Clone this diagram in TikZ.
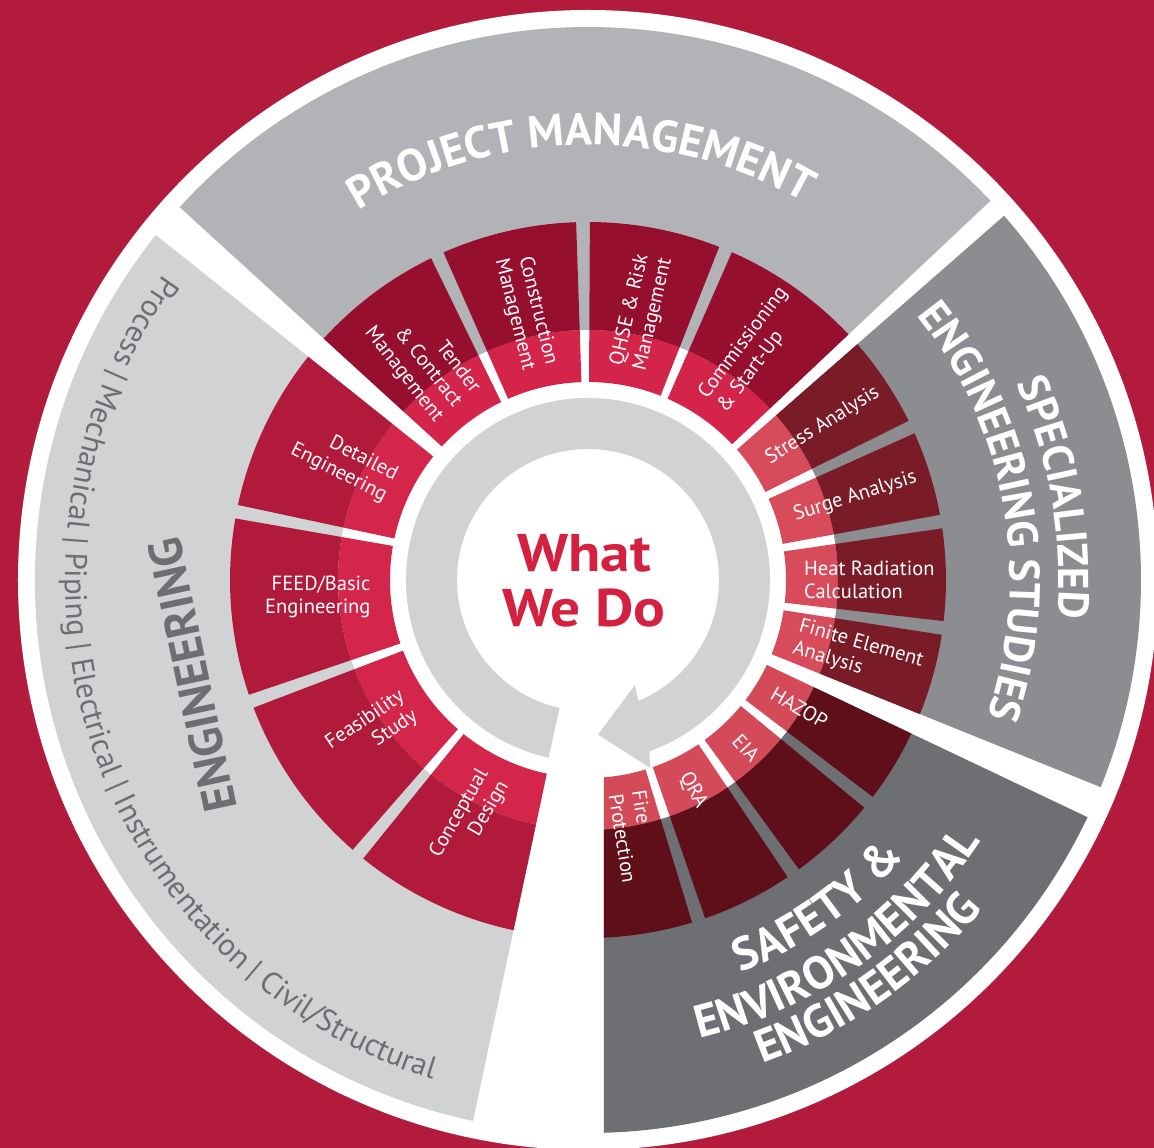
\documentclass[tikz,border=0pt]{standalone}
\usepackage{fontspec}
\setmainfont{PT Sans}
\newfontfamily\wwdfont[FakeStretch=1.12]{PT Sans}
\usetikzlibrary{decorations.text}

\definecolor{bgred}{HTML}{B21B3B}
\definecolor{enggray}{HTML}{D1D2D4}
\definecolor{pmgray}{HTML}{B2B3B6}
\definecolor{specgray}{HTML}{8C8D91}
\definecolor{safegray}{HTML}{6E6F73}
\definecolor{engdark}{HTML}{B11A3A}
\definecolor{engpink}{HTML}{D3264A}
\definecolor{pmdark}{HTML}{970F2F}
\definecolor{pmpink}{HTML}{D4244A}
\definecolor{specdark}{HTML}{7A1C28}
\definecolor{specpink}{HTML}{D74B5A}
\definecolor{safedark}{HTML}{5E0F1A}
\definecolor{safepink}{HTML}{D54A58}
\definecolor{engtext}{HTML}{6D6E72}
\definecolor{wwdred}{HTML}{D4213F}

% one piece of a ring: from angle #1 to #2, radius #3 to #4
\newcommand{\ringpart}[5]{%
  \fill[#5] (#1:#3) arc[start angle=#1, end angle=#2, radius=#3]
    -- (#2:#4) arc[start angle=#2, end angle=#1, radius=#4] -- cycle;}

\begin{document}
\begin{tikzpicture}[x=1pt, y=1pt,
    sublabel/.style={text=white, inner sep=0pt, font=\fontsize{20.5}{23.5}\selectfont},
    outward/.style={sublabel, anchor=west, align=left},
    inward/.style={sublabel, anchor=east, align=right}]
  \useasboundingbox (-588,-568) rectangle (566,580);
  \fill[bgred] (-588,-568) rectangle (566,580);
  \fill[white] (0,0) circle[radius=570];

  % category bands
  \ringpart{141.4}{258}{250}{553}{enggray}
  \ringpart{43.3}{137.6}{250}{553}{pmgray}
  \ringpart{-22}{41.2}{250}{553}{specgray}
  \begin{scope}
    \clip (16,-580) rectangle (580,0);
    \ringpart{-95}{-25.4}{250}{553}{safegray}
    \ringpart{-95}{-73.1}{198}{250}{safepink}
    \ringpart{-95}{-73.1}{250}{358}{safedark}
  \end{scope}

  % service blocks
  \foreach \a/\b in {141.4/167.9, 170.1/198.7, 200.9/228.9, 231.1/258}
    {\ringpart{\a}{\b}{198}{250}{engpink}\ringpart{\a}{\b}{250}{358}{engdark}}
  \foreach \a/\b in {116/137.6, 91.9/113.8, 68.5/89.7, 43.3/66.3}
    {\ringpart{\a}{\b}{198}{250}{pmpink}\ringpart{\a}{\b}{250}{358}{pmdark}}
  \foreach \a/\b in {26.4/41.2, 10.5/24.2, -6.6/8.3, -22/-8.8}
    {\ringpart{\a}{\b}{198}{250}{specpink}\ringpart{\a}{\b}{250}{358}{specdark}}
  \foreach \a/\b in {-37.3/-25.4, -53.9/-39.5, -70.9/-56.1}
    {\ringpart{\a}{\b}{198}{250}{safepink}\ringpart{\a}{\b}{250}{358}{safedark}}

  % circular arrow
  \fill[enggray] (257.5:182) arc[start angle=257.5, end angle=-70.3, radius=182]
    -- (-71.7:198) -- (-86.3:155) -- (-65.9:115) -- (-67.4:131)
    arc[start angle=-67.4, end angle=257.5, radius=131] -- cycle;

  \node[text=wwdred, font=\wwdfont\bfseries\fontsize{53}{55}\selectfont, align=center] (whatwedo) at (-4,-1) {What\\We Do};

  % service labels
  \node[inward, rotate=-27]  (detailed)     at (154.6:218) {Detailed\\Engineering};
  \node[inward, rotate=0]    (feed)         at (184.4:218) {FEED/Basic\\Engineering};
  \node[inward, rotate=34]   (feasibility)  at (214.9:218) {Feasibility\\Study};
  \node[inward, rotate=60]   (conceptual)   at (244.5:218) {Conceptual\\Design};
  \node[inward, rotate=-52]  (tender)       at (126.8:218) {Tender\\\& Contract\\Management};
  \node[inward, rotate=-76]  (construction) at (102.8:218) {Construction\\Management};
  \node[outward, rotate=77]  (qhse)         at (79.1:216)  {QHSE \& Risk\\Management};
  \node[outward, rotate=53]  (commissioning) at (54.8:216) {Commissioning\\\& Start-Up};
  \node[outward, rotate=32]  (stress)       at (33.8:216)  {Stress Analysis};
  \node[outward, rotate=17.5] (surge)       at (17.3:216)  {Surge Analysis};
  \node[outward, rotate=0]   (heat)         at (0:216)     {Heat Radiation\\Calculation};
  \node[outward, rotate=-16] (finite)       at (-15.4:216) {Finite Element\\Analysis};
  \node[outward, rotate=-30] (hazop)        at (-31.3:216) {HAZOP};
  \node[outward, rotate=-47] (eia)          at (-46.7:216) {EIA};
  \node[outward, rotate=-62] (qra)          at (-63.5:216) {QRA};
  \node[outward, rotate=-81] (fire)         at (-79.5:216) {Fire\\Protection};

  % category titles
  \path[decorate, decoration={text along path, text align=center,
      text={|\bfseries\fontsize{45}{45}\selectfont\color{white}|PROJECT MANAGEMENT}}]
    (151:435) arc[start angle=151, end angle=31, radius=435];
  \path[decorate, decoration={text along path, text align=center,
      text={|\bfseries\fontsize{43}{43}\selectfont\color{white}|SPECIALIZED}}]
    (50:471) arc[start angle=50, end angle=-30, radius=471];
  \path[decorate, decoration={text along path, text align=center,
      text={|\bfseries\fontsize{43}{43}\selectfont\color{white}|ENGINEERING STUDIES}}]
    (60:422) arc[start angle=60, end angle=-40, radius=422];
  \path[decorate, decoration={text along path, text align=center,
      text={|\bfseries\fontsize{46}{46}\selectfont\color{white}|SAFETY {\&}}}]
    (-105:421) arc[start angle=-105, end angle=-5, radius=421];
  \path[decorate, decoration={text along path, text align=center,
      text={|\bfseries\fontsize{46}{46}\selectfont\color{white}|ENVIRONMENTAL}}]
    (-105:472) arc[start angle=-105, end angle=-5, radius=472];
  \path[decorate, decoration={text along path, text align=center,
      text={|\bfseries\fontsize{46}{46}\selectfont\color{white}|ENGINEERING}}]
    (-105:514) arc[start angle=-105, end angle=-5, radius=514];
  \node[font=\bfseries\fontsize{47}{47}\selectfont, text=engtext, rotate=102] (engtitle) at (-396,-95) {ENGINEERING};
  \path[decorate, decoration={text along path, text align=center,
      text={|\fontsize{31}{31}\selectfont\color{engtext}|Process {\textbar} Mechanical {\textbar} Piping {\textbar} Electrical {\textbar} Instrumentation {\textbar} Civil/Structural}}]
    (139:523) arc[start angle=139, end angle=258, radius=523];
\end{tikzpicture}
\end{document}
